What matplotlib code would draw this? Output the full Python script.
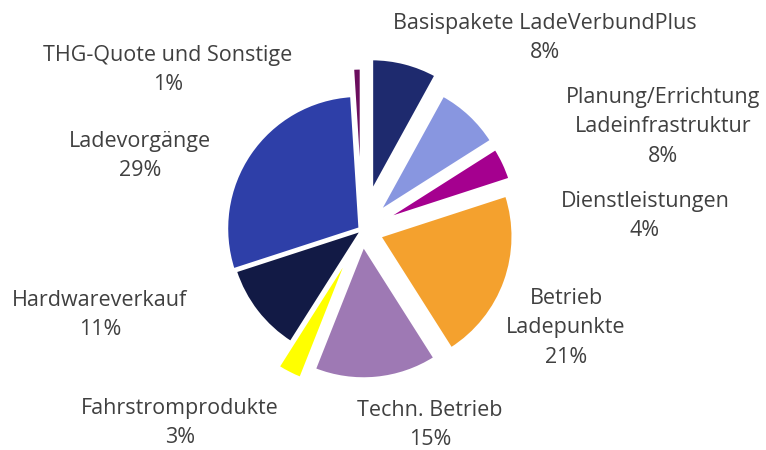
import matplotlib
matplotlib.use("Agg")
import matplotlib.pyplot as plt

# ---- data ----
labels = ["Basispakete LadeVerbundPlus", "Planung/Errichtung\nLadeinfrastruktur",
          "Dienstleistungen", "Betrieb\nLadepunkte", "Techn. Betrieb",
          "Fahrstromprodukte", "Hardwareverkauf", "Ladevorgänge",
          "THG-Quote und Sonstige"]
values = [8, 8, 4, 21, 15, 3, 11, 29, 1]
colors = ["#1e2a6e", "#8896e0", "#a5008f", "#f4a12e", "#9e79b4",
          "#ffff00", "#121a45", "#2e3fa8", "#6b0e5e"]
explode = [0.30, 0.19, 0.18, 0.145, 0.12, 0.21, 0.0, 0.02, 0.22]

# label anchor (centre of text block) in pixel coords, y from top
label_pos = [(545, 38), (663, 127), (645, 216), (566, 328), (430, 425),
             (180, 423), (100, 315), (140, 156), (168, 70)]

W, H = 766, 450
fig = plt.figure(figsize=(W / 100, H / 100), dpi=100)
ax = fig.add_axes([0, 0, 1, 1])

cx, cy, r = 362, 230, 133
ax.pie(values, colors=colors, explode=[e * 131 for e in explode], startangle=90,
       counterclock=False, radius=r, center=(cx, H - cy),
       wedgeprops=dict(edgecolor="white", linewidth=2))

font = ["Open Sans", "DejaVu Sans"]
for lab, v, (x, y) in zip(labels, values, label_pos):
    ax.text(x, H - y, f"{lab}\n{v}%", ha="center", va="center",
            fontsize=15.5, color="#404040", family=font, linespacing=1.55)

ax.set_xlim(0, W)
ax.set_ylim(0, H)
ax.set_aspect("equal")
ax.axis("off")
fig.savefig("out.png", dpi=100)
